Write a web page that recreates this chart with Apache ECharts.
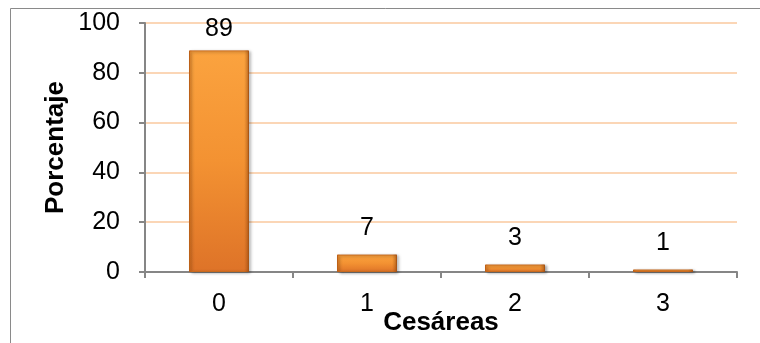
<!DOCTYPE html>
<html>
<head>
<meta charset="utf-8">
<script src="https://cdn.jsdelivr.net/npm/echarts@6/dist/echarts.min.js"></script>
<style>
  html, body { margin: 0; padding: 0; background: #fff; }
  #chart { width: 760px; height: 343px; }
</style>
</head>
<body>
<div id="chart"></div>
<script>
// Número de cesáreas previas y porcentaje de pacientes
var categories = ['0', '1', '2', '3'];
var percentages = [89, 7, 3, 1];
var yTicks = [0, 20, 40, 60, 80, 100];

var chart = echarts.init(document.getElementById('chart'));

var textFont = 'Liberation Sans, Arial, sans-serif';

var barFill = new echarts.graphic.LinearGradient(0, 0, 0, 1, [
  { offset: 0, color: '#FBA33F' },
  { offset: 0.5, color: '#F39232' },
  { offset: 1, color: '#DE7328' }
]);
var edgeShade = new echarts.graphic.LinearGradient(0, 0, 1, 0, [
  { offset: 0, color: 'rgba(170,80,10,0.45)' },
  { offset: 0.06, color: 'rgba(170,80,10,0.0)' },
  { offset: 0.92, color: 'rgba(150,70,10,0.0)' },
  { offset: 1, color: 'rgba(130,60,10,0.55)' }
]);

chart.setOption({
  animation: false,
  graphic: [{
    type: 'rect',
    shape: { x: 10.5, y: 8.5, width: 900, height: 500 },
    style: { fill: 'none', stroke: '#8a8a8a', lineWidth: 1 },
    silent: true
  }],
  grid: { left: 145, right: 23, top: 23, bottom: 71, containLabel: false, outerBoundsMode: 'none' },
  xAxis: {
    type: 'category',
    data: categories,
    name: 'Cesáreas',
    nameLocation: 'middle',
    nameGap: 38,
    nameMoveOverlap: false,
    nameTextStyle: { fontFamily: textFont, fontWeight: 'bold', fontSize: 26, color: '#000' },
    axisLine: { lineStyle: { color: '#868686', width: 2 } },
    axisTick: { show: true, length: 6, lineStyle: { color: '#868686', width: 2 } },
    axisLabel: { fontFamily: textFont, fontSize: 25, color: '#000', margin: 20 },
    splitLine: { show: false }
  },
  yAxis: {
    type: 'value',
    min: yTicks[0],
    max: yTicks[yTicks.length - 1],
    interval: yTicks[1] - yTicks[0],
    name: 'Porcentaje',
    nameLocation: 'middle',
    nameGap: 76,
    nameMoveOverlap: false,
    nameTextStyle: { fontFamily: textFont, fontWeight: 'bold', fontSize: 26, color: '#000' },
    axisLine: { show: true, lineStyle: { color: '#868686', width: 2 } },
    axisTick: { show: true, length: 6, lineStyle: { color: '#868686', width: 2 } },
    axisLabel: { fontFamily: textFont, fontSize: 25, color: '#000', margin: 25 },
    splitLine: { show: true, lineStyle: { color: '#FBD6B6', width: 2 } }
  },
  series: [{
    type: 'bar',
    barWidth: '40.5%',
    data: percentages.map(function (v, i) {
      return i === 0 ? { value: v, label: { distance: 9 } } : v;
    }),
    itemStyle: {
      color: barFill,
      borderColor: '#C96A1E',
      borderWidth: 1,
      shadowColor: 'rgba(0,0,0,0.35)',
      shadowBlur: 3,
      shadowOffsetX: 2,
      shadowOffsetY: 1
    },
    label: {
      show: true,
      position: 'top',
      distance: 14,
      fontFamily: textFont,
      fontSize: 25,
      color: '#000'
    },
    z: 2
  }, {
    type: 'bar',
    barWidth: '40.5%',
    barGap: '-100%',
    data: percentages,
    itemStyle: { color: edgeShade },
    silent: true,
    z: 3
  }]
});
</script>
</body>
</html>
